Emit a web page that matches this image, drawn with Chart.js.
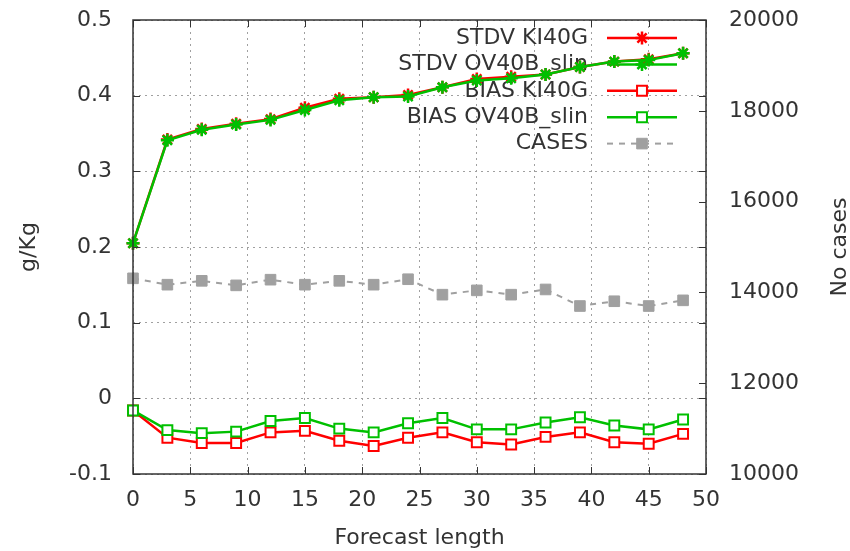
<!DOCTYPE html>
<html>
<head>
<meta charset="utf-8">
<script src="https://cdn.jsdelivr.net/npm/chart.js@4/dist/chart.umd.min.js"></script>
<style>
  html, body { margin: 0; padding: 0; background: #fff; }
  #chart { display: block; }
</style>
</head>
<body>
<canvas id="chart" width="850" height="551"></canvas>
<script>
// forecast length (hours)
const steps = [0, 3, 6, 9, 12, 15, 18, 21, 24, 27, 30, 33, 36, 39, 42, 45, 48];

const stdvKI40G = [0.205, 0.342, 0.356, 0.363, 0.369, 0.384, 0.396, 0.398, 0.401, 0.411, 0.422, 0.425, 0.428, 0.438, 0.445, 0.448, 0.456];
const stdvOV40B = [0.205, 0.341, 0.355, 0.362, 0.368, 0.381, 0.394, 0.398, 0.399, 0.411, 0.420, 0.423, 0.428, 0.438, 0.445, 0.447, 0.456];
const biasKI40G = [-0.016, -0.052, -0.059, -0.059, -0.045, -0.043, -0.056, -0.063, -0.052, -0.045, -0.058, -0.061, -0.051, -0.045, -0.058, -0.060, -0.047];
const biasOV40B = [-0.016, -0.042, -0.046, -0.044, -0.030, -0.026, -0.040, -0.045, -0.033, -0.026, -0.041, -0.041, -0.032, -0.025, -0.036, -0.041, -0.028];
const cases = [14310, 14170, 14255, 14155, 14280, 14170, 14255, 14170, 14290, 13950, 14045, 13950, 14065, 13700, 13805, 13700, 13825];

const FONT = { family: "'DejaVu Sans', sans-serif", size: 22 };
const TEXT = '#333';

function pts(vals) {
    return vals.map((v, i) => ({ x: steps[i], y: v }));
}

const datasets = [
    { label: 'STDV KI40G', data: pts(stdvKI40G), yAxisID: 'y', borderColor: '#ff0000', backgroundColor: '#ff0000',
      pointStyle: 'star', pointRadius: 6.5, pointBorderWidth: 2.5, borderWidth: 2.5, order: 5 },
    { label: 'STDV OV40B_slin', data: pts(stdvOV40B), yAxisID: 'y', borderColor: '#00c000', backgroundColor: '#00c000',
      pointStyle: 'star', pointRadius: 6.5, pointBorderWidth: 2.5, borderWidth: 2.5, order: 4 },
    { label: 'BIAS KI40G', data: pts(biasKI40G), yAxisID: 'y', borderColor: '#ff0000', backgroundColor: '#ffffff',
      pointStyle: 'rect', pointRadius: 7, pointBorderWidth: 2, borderWidth: 2.5, order: 3 },
    { label: 'BIAS OV40B_slin', data: pts(biasOV40B), yAxisID: 'y', borderColor: '#00c000', backgroundColor: '#ffffff',
      pointStyle: 'rect', pointRadius: 7, pointBorderWidth: 2, borderWidth: 2.5, order: 2 },
    { label: 'CASES', data: pts(cases), yAxisID: 'y2', borderColor: '#a0a0a0', backgroundColor: '#a0a0a0',
      pointStyle: 'rect', pointRadius: 7.5, pointBorderWidth: 1, borderWidth: 2, borderDash: [6, 6], order: 1 }
];

// gnuplot style frame: border, inward ticks on all sides
const framePlugin = {
    id: 'frame',
    afterDraw(chart) {
        const { ctx, chartArea: a, scales } = chart;
        ctx.save();
        ctx.strokeStyle = '#333';
        ctx.lineWidth = 1;
        ctx.beginPath();
        scales.x.ticks.forEach(t => {
            const px = Math.round(scales.x.getPixelForValue(t.value)) + 0.5;
            ctx.moveTo(px, a.bottom); ctx.lineTo(px, a.bottom - 7);
            ctx.moveTo(px, a.top); ctx.lineTo(px, a.top + 7);
        });
        scales.y.ticks.forEach(t => {
            const py = Math.round(scales.y.getPixelForValue(t.value)) + 0.5;
            ctx.moveTo(a.left, py); ctx.lineTo(a.left + 7, py);
            ctx.moveTo(a.right, py); ctx.lineTo(a.right - 7, py);
        });
        scales.y2.ticks.forEach(t => {
            const py = Math.round(scales.y2.getPixelForValue(t.value)) + 0.5;
            ctx.moveTo(a.right, py); ctx.lineTo(a.right - 7, py);
        });
        ctx.stroke();
        ctx.lineWidth = 1.5;
        ctx.strokeRect(a.left, a.top, a.right - a.left, a.bottom - a.top);

        // right axis title, reading bottom to top
        ctx.fillStyle = TEXT;
        ctx.font = FONT.size + 'px ' + FONT.family;
        ctx.translate(840, (a.top + a.bottom) / 2);
        ctx.rotate(-Math.PI / 2);
        ctx.textAlign = 'center';
        ctx.textBaseline = 'middle';
        ctx.fillText('No cases', 0, 0);
        ctx.restore();
    }
};

// key in the upper right, drawn under the data like gnuplot does
const keyPlugin = {
    id: 'key',
    beforeDatasetsDraw(chart) {
        const ctx = chart.ctx;
        ctx.save();
        ctx.font = FONT.size + 'px ' + FONT.family;
        ctx.textAlign = 'right';
        ctx.textBaseline = 'middle';
        chart.data.datasets.forEach((ds, i) => {
            const y = 38 + i * 26.4;
            ctx.fillStyle = TEXT;
            ctx.fillText(ds.label, 588, y);
            ctx.strokeStyle = ds.borderColor;
            ctx.lineWidth = ds.borderWidth;
            ctx.setLineDash(ds.borderDash || []);
            ctx.beginPath();
            ctx.moveTo(607, y);
            ctx.lineTo(677, y);
            ctx.stroke();
            ctx.setLineDash([]);
            ctx.fillStyle = ds.backgroundColor;
            ctx.lineWidth = ds.pointBorderWidth;
            Chart.helpers.drawPoint(ctx, { pointStyle: ds.pointStyle, radius: ds.pointRadius, borderWidth: ds.pointBorderWidth, rotation: 0 }, 642, y);
        });
        ctx.restore();
    }
};

function fixWidth(w) {
    return function (s) {
        s.width = w;
        s.paddingTop = 0;
        s.paddingBottom = 0;
    };
}

new Chart(document.getElementById('chart'), {
    type: 'line',
    data: { datasets: datasets },
    options: {
        responsive: false,
        animation: false,
        clip: false,
        layout: { padding: { top: 20, left: 0, right: 0, bottom: 0 } },
        plugins: { legend: { display: false }, tooltip: { enabled: false } },
        elements: { line: { tension: 0 } },
        scales: {
            x: {
                type: 'linear', min: 0, max: 50,
                ticks: { stepSize: 5, padding: 13, color: TEXT, font: FONT },
                grid: { color: '#a0a0a0', lineWidth: 1, drawTicks: false },
                border: { display: false, dash: [2, 4] },
                title: { display: true, text: 'Forecast length', color: TEXT, font: FONT, padding: { top: 0, bottom: 0 } },
                afterFit(s) { s.height = 77; s.paddingLeft = 0; s.paddingRight = 0; }
            },
            y: {
                type: 'linear', position: 'left', min: -0.1, max: 0.5,
                ticks: { stepSize: 0.1, padding: 21, color: TEXT, font: FONT,
                         callback: v => String(parseFloat(v.toFixed(1))) },
                grid: { color: '#a0a0a0', lineWidth: 1, drawTicks: false },
                border: { display: false, dash: [2, 4] },
                title: { display: true, text: 'g/Kg', color: TEXT, font: FONT, padding: { top: 16, bottom: 0 } },
                afterFit: fixWidth(133)
            },
            y2: {
                type: 'linear', position: 'right', min: 10000, max: 20000,
                ticks: { stepSize: 2000, padding: 23, color: TEXT, font: FONT, callback: v => String(v) },
                grid: { display: false, drawTicks: false },
                border: { display: false },
                afterFit: fixWidth(144)
            }
        }
    },
    plugins: [keyPlugin, framePlugin]
});
</script>
</body>
</html>
